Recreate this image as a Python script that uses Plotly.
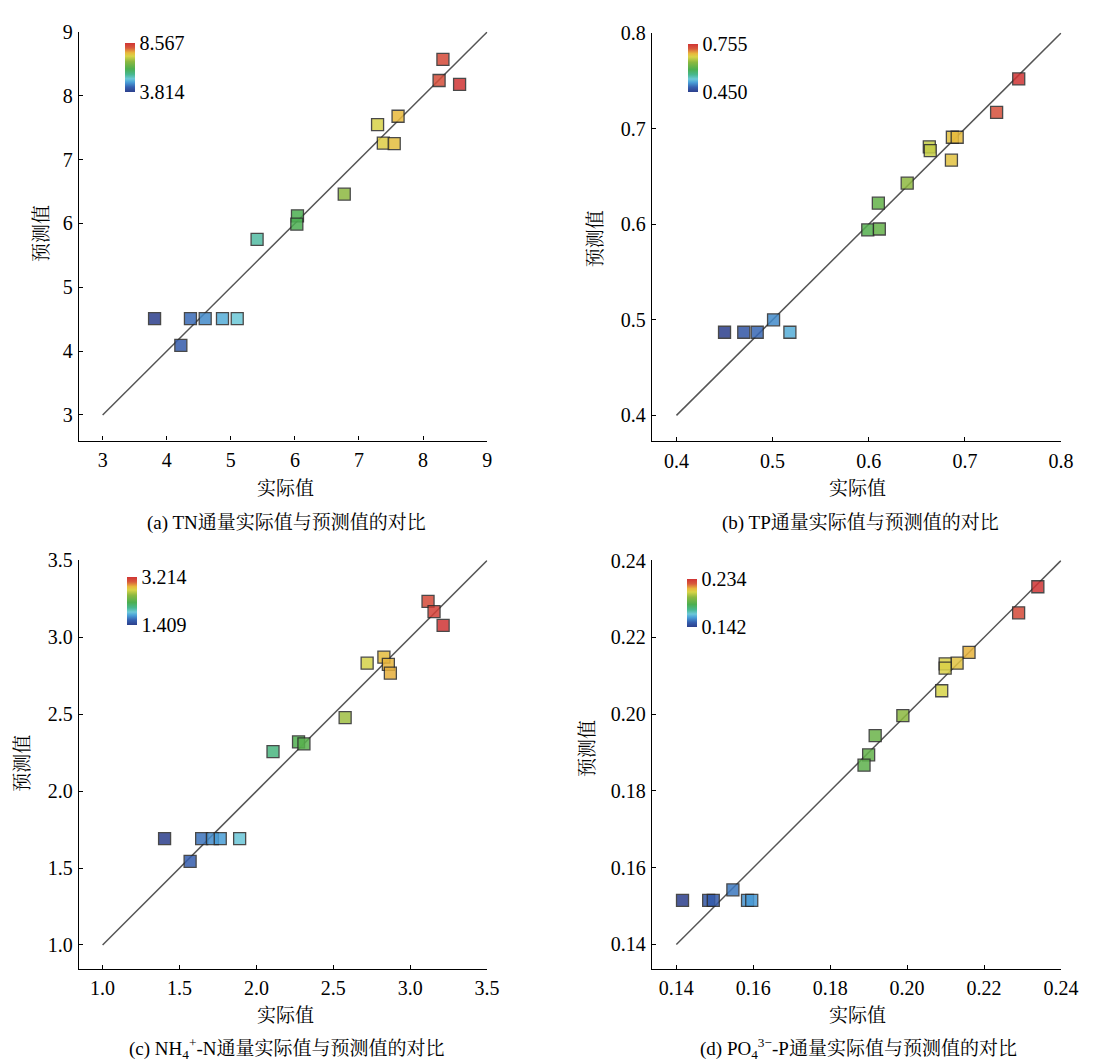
import plotly.graph_objects as go

W, H = 1098, 1062

# ---------------- data ----------------
tn_actual = [8.31, 8.25, 8.57, 7.61, 7.29, 7.38, 7.55, 6.77, 6.04, 6.03, 5.41, 3.81, 4.37, 4.60, 4.87, 5.10, 4.22]
tn_pred = [8.57, 8.24, 8.18, 7.68, 7.55, 7.26, 7.25, 6.46, 6.12, 5.99, 5.75, 4.51, 4.51, 4.51, 4.51, 4.51, 4.09]

tp_actual = [0.756, 0.733, 0.687, 0.692, 0.663, 0.664, 0.686, 0.640, 0.610, 0.599, 0.611, 0.501, 0.450, 0.470, 0.484, 0.518]
tp_pred = [0.752, 0.717, 0.691, 0.691, 0.681, 0.677, 0.667, 0.643, 0.622, 0.594, 0.595, 0.500, 0.487, 0.487, 0.487, 0.487]

nh_actual = [3.116, 3.155, 3.214, 2.829, 2.720, 2.858, 2.871, 2.577, 2.274, 2.309, 2.108, 1.403, 1.644, 1.714, 1.765, 1.891, 1.569]
nh_pred = [3.234, 3.168, 3.078, 2.872, 2.832, 2.825, 2.767, 2.478, 2.320, 2.307, 2.257, 1.692, 1.692, 1.692, 1.692, 1.692, 1.544]

po_actual = [0.2340, 0.2290, 0.2161, 0.2130, 0.2099, 0.2099, 0.2090, 0.1989, 0.1917, 0.1900, 0.1888, 0.1547, 0.1416, 0.1484, 0.1496, 0.1585, 0.1596]
po_pred = [0.2332, 0.2264, 0.2161, 0.2133, 0.2131, 0.2120, 0.2061, 0.1996, 0.1944, 0.1894, 0.1867, 0.1542, 0.1515, 0.1515, 0.1515, 0.1515, 0.1515]

cbar_min = [3.814, 0.450, 1.409, 0.142]
cbar_max = [8.567, 0.755, 3.214, 0.234]
cbar_min_text = ["3.814", "0.450", "1.409", "0.142"]
cbar_max_text = ["8.567", "0.755", "3.214", "0.234"]

line_ends = [[3, 9], [0.4, 0.8], [1.0, 3.5], [0.14, 0.24]]

x_ticks = [[3, 4, 5, 6, 7, 8, 9], [0.4, 0.5, 0.6, 0.7, 0.8],
           [1.0, 1.5, 2.0, 2.5, 3.0, 3.5], [0.14, 0.16, 0.18, 0.20, 0.22, 0.24]]
x_ticktext = [["3", "4", "5", "6", "7", "8", "9"], ["0.4", "0.5", "0.6", "0.7", "0.8"],
              ["1.0", "1.5", "2.0", "2.5", "3.0", "3.5"], ["0.14", "0.16", "0.18", "0.20", "0.22", "0.24"]]

captions = ["(a) TN通量实际值与预测值的对比",
            "(b) TP通量实际值与预测值的对比",
            "(c) NH<sub>4</sub><sup>+</sup>-N通量实际值与预测值的对比",
            "(d) PO<sub>4</sub><sup>3−</sup>-P通量实际值与预测值的对比"]
xlabel = "实际值"
ylabel = "预测值"

# ---------------- style ----------------
FONT = "Liberation Serif, Times New Roman, Noto Serif CJK SC, Noto Sans CJK SC, serif"
scale = [[0.0, "#2c3f8c"], [0.1, "#3560b0"], [0.2, "#4aa0d8"], [0.27, "#6cc8d8"],
         [0.36, "#48b890"], [0.47, "#4caf50"], [0.62, "#8cb840"], [0.73, "#d8d448"],
         [0.8, "#e8b83c"], [0.9, "#d85a3c"], [1.0, "#d03434"]]

# pixel geometry of panels: (left, right, top, bottom)
panels_px = [(80, 495, 21, 434), (662, 1078, 22, 435), (80, 495, 555, 968), (662, 1078, 555, 968)]
x_ranges = [[2.627, 9.003], [0.3743, 0.8003], [0.845, 3.5015], [0.1336, 0.2401]]
y_ranges = [[2.60, 9.003], [0.3727, 0.8003], [0.844, 3.5015], [0.1336, 0.2401]]
cbar_px = [(127, 33, 82), (699, 34, 82), (129, 572, 620), (698, 574, 622)]
xlabel_px = [(290, 482), (871, 482), (290, 1015), (871, 1015)]
ylabel_px = [(42, 225), (605, 230), (22, 760), (597, 745)]
caption_px = [(291, 517), (874, 517), (292, 1048), (872, 1048)]

data = [(tn_actual, tn_pred), (tp_actual, tp_pred), (nh_actual, nh_pred), (po_actual, po_pred)]

fig = go.Figure()
layout = dict(width=W, height=H, margin=dict(l=0, r=0, t=0, b=0),
              paper_bgcolor="white", plot_bgcolor="white", showlegend=False,
              font=dict(family=FONT, size=20, color="black"))
annotations = []

for i, (xa, ya) in enumerate(data):
    n = "" if i == 0 else str(i + 1)
    l, r, t, b = panels_px[i]
    ax = dict(domain=[l / W, r / W], range=x_ranges[i], showgrid=False, zeroline=False,
              showline=True, linecolor="black", linewidth=1.2, ticks="inside", ticklen=4,
              tickwidth=1.2, tickcolor="black", tickvals=x_ticks[i], ticktext=x_ticktext[i],
              ticklabelstandoff=1,
              tickfont=dict(family=FONT, size=20, color="black"), anchor="y" + n)
    ay = dict(domain=[1 - b / H, 1 - t / H], range=y_ranges[i], showgrid=False, zeroline=False,
              showline=True, linecolor="black", linewidth=1.2, ticks="inside", ticklen=4,
              tickwidth=1.2, tickcolor="black", tickvals=x_ticks[i], ticktext=x_ticktext[i],
              ticklabelstandoff=1,
              tickfont=dict(family=FONT, size=20, color="black"), anchor="x" + n)
    layout["xaxis" + n] = ax
    layout["yaxis" + n] = ay

    cx, cy0, cy1 = cbar_px[i]
    layout["coloraxis" + n] = dict(
        cmin=cbar_min[i], cmax=cbar_max[i], colorscale=scale,
        colorbar=dict(x=cx / W, xanchor="left", y=1 - (cy0 + cy1) / 2 / H, yanchor="middle",
                      lenmode="pixels", len=cy1 - cy0, thickness=10, outlinewidth=0,
                      xpad=0, ypad=0,
                      tickvals=[cbar_min[i], cbar_max[i]],
                      ticktext=[cbar_min_text[i], cbar_max_text[i]], ticks="",
                      tickfont=dict(family=FONT, size=20, color="black"))
    )

    lo, hi = line_ends[i]
    fig.add_trace(go.Scatter(x=[lo, hi], y=[lo, hi], mode="lines",
                             line=dict(color="#555555", width=1.5),
                             xaxis="x" + n, yaxis="y" + n, hoverinfo="skip"))
    fig.add_trace(go.Scatter(x=xa, y=ya, mode="markers",
                             marker=dict(symbol="square", size=12, color=xa, coloraxis="coloraxis" + n,
                                         opacity=0.85, line=dict(color="#2a2a2a", width=1.3)),
                             xaxis="x" + n, yaxis="y" + n))

    px_, py_ = xlabel_px[i]
    annotations.append(dict(text=xlabel, x=px_ / W, y=1 - py_ / H, xref="paper", yref="paper",
                            showarrow=False, font=dict(family=FONT, size=19, color="black"),
                            xanchor="center", yanchor="middle"))
    px_, py_ = ylabel_px[i]
    annotations.append(dict(text=ylabel, x=px_ / W, y=1 - py_ / H, xref="paper", yref="paper",
                            showarrow=False, textangle=-90, font=dict(family=FONT, size=19, color="black"),
                            xanchor="center", yanchor="middle"))
    px_, py_ = caption_px[i]
    annotations.append(dict(text=captions[i], x=px_ / W, y=1 - py_ / H, xref="paper", yref="paper",
                            showarrow=False, font=dict(family=FONT, size=19, color="black"),
                            xanchor="center", yanchor="middle"))

layout["annotations"] = annotations
fig.update_layout(**layout)
fig.write_html("out.html")
